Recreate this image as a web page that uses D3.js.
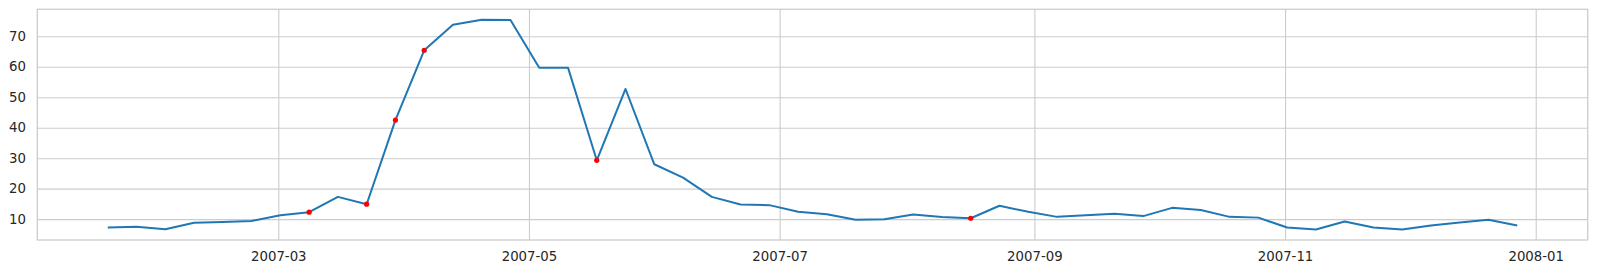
<!DOCTYPE html>
<html>
<head>
<meta charset="utf-8">
<script src="https://cdn.jsdelivr.net/npm/d3@7"></script>
<style>
	body { margin: 0; background: #fff; }
	#chart text { font-family: "DejaVu Sans", sans-serif; font-size: 13.3px; fill: #262626; }
</style>
</head>
<body>
<div id="chart"></div>
<script>
// weekly readings, 2007
const dates = [
	"2007-01-18", "2007-01-25", "2007-02-01", "2007-02-08", "2007-02-15",
	"2007-02-22", "2007-03-01", "2007-03-08", "2007-03-15", "2007-03-22",
	"2007-03-29", "2007-04-05", "2007-04-12", "2007-04-19", "2007-04-26",
	"2007-05-03", "2007-05-10", "2007-05-17", "2007-05-24", "2007-05-31",
	"2007-06-07", "2007-06-14", "2007-06-21", "2007-06-28", "2007-07-05",
	"2007-07-12", "2007-07-19", "2007-07-26", "2007-08-02", "2007-08-09",
	"2007-08-16", "2007-08-23", "2007-08-30", "2007-09-06", "2007-09-13",
	"2007-09-20", "2007-09-27", "2007-10-04", "2007-10-11", "2007-10-18",
	"2007-10-25", "2007-11-01", "2007-11-08", "2007-11-15", "2007-11-22",
	"2007-11-29", "2007-12-06", "2007-12-13", "2007-12-20", "2007-12-27"
];
const values = [
	7.25, 7.5, 6.7, 8.8, 9.1, 9.4, 11.3, 12.3, 17.3, 14.9,
	42.5, 65.4, 73.8, 75.4, 75.3, 59.7, 59.7, 29.3, 52.7, 28.0,
	23.6, 17.3, 14.8, 14.6, 12.4, 11.6, 9.8, 10.0, 11.5, 10.7,
	10.3, 14.4, 12.4, 10.75, 11.3, 11.8, 11.0, 13.7, 13.0, 10.75,
	10.5, 7.25, 6.6, 9.2, 7.25, 6.6, 7.9, 8.9, 9.8, 7.9
];
// highlighted weeks (red markers)
const marked = ["2007-03-08", "2007-03-22", "2007-03-29", "2007-04-05", "2007-05-17", "2007-08-16"];

const xTicks = ["2007-03", "2007-05", "2007-07", "2007-09", "2007-11", "2008-01"];
const yTicks = [10, 20, 30, 40, 50, 60, 70];

const width = 1597, height = 274;
const margin = {top: 9.3, right: 9.3, bottom: 34, left: 37.3};
const w = width - margin.left - margin.right;
const h = height - margin.top - margin.bottom;

const toDate = s => new Date(s + "T12:00:00Z");
const data = dates.map((d, i) => ({date: toDate(d), value: values[i], key: d}));

// matplotlib style 5% margins
const xExt = d3.extent(data, d => d.date);
const xPad = (xExt[1] - xExt[0]) * 0.05;
const yExt = d3.extent(values);
const yPad = (yExt[1] - yExt[0]) * 0.05;

const x = d3.scaleUtc()
	.domain([new Date(+xExt[0] - xPad), new Date(+xExt[1] + xPad)])
	.range([0, w]);
const y = d3.scaleLinear()
	.domain([yExt[0] - yPad, yExt[1] + yPad])
	.range([h, 0]);

const svg = d3.select("#chart").append("svg")
	.attr("width", width).attr("height", height);
const g = svg.append("g")
	.attr("transform", "translate(" + margin.left + "," + margin.top + ")");

const fmt = d3.utcFormat("%Y-%m");
const xAxis = g.append("g")
	.attr("transform", "translate(0," + h + ")")
	.call(d3.axisBottom(x)
		.tickValues(xTicks.map(t => new Date(t + "-01T00:00:00Z")))
		.tickFormat(fmt)
		.tickSize(-h).tickPadding(11.5));
const yAxis = g.append("g")
	.call(d3.axisLeft(y)
		.tickValues(yTicks)
		.tickSize(-w).tickPadding(11.3));

[xAxis, yAxis].forEach(a => {
	a.select(".domain").remove();
	a.selectAll(".tick line").attr("stroke", "#cccccc").attr("stroke-width", 1.1);
});
xAxis.selectAll("text").attr("y", 11.5).attr("dy", "0.71em");

// frame
g.append("rect")
	.attr("x", 0).attr("y", 0).attr("width", w).attr("height", h)
	.attr("fill", "none").attr("stroke", "#cccccc").attr("stroke-width", 1.3);

const line = d3.line()
	.x(d => x(d.date))
	.y(d => y(d.value));

g.append("path")
	.datum(data)
	.attr("fill", "none")
	.attr("stroke", "#1f77b4")
	.attr("stroke-width", 2)
	.attr("stroke-linejoin", "round")
	.attr("d", line);

g.selectAll("circle.mark")
	.data(data.filter(d => marked.includes(d.key)))
	.enter().append("circle")
	.attr("class", "mark")
	.attr("cx", d => x(d.date))
	.attr("cy", d => y(d.value))
	.attr("r", 2.6)
	.attr("fill", "red");
</script>
</body>
</html>
